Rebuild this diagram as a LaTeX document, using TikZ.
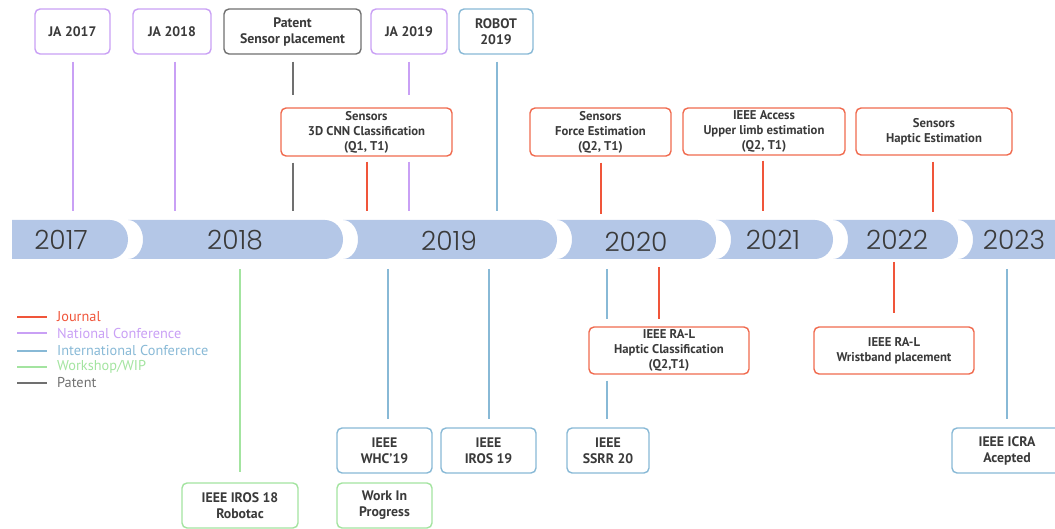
\documentclass[tikz,border=0pt]{standalone}
\usepackage{fontspec}
\setmainfont{PT Sans}
\newfontfamily\yearfont{Poppins}[UprightFont=* Light]
\newfontfamily\boxfont{PT Sans}[UprightFont=* Bold]
\definecolor{cjour}{HTML}{F0553A}
\definecolor{cjourb}{HTML}{F06A4E}
\definecolor{cnat}{HTML}{C9A0F5}
\definecolor{cint}{HTML}{88B9D6}
\definecolor{cwork}{HTML}{A3E4A0}
\definecolor{cpat}{HTML}{707070}
\definecolor{bandc}{HTML}{B4C7E7}
\definecolor{txt}{HTML}{3A3A3A}
\definecolor{yeartxt}{HTML}{3A3A3A}
\tikzset{
  box/.style={draw, rounded corners=5pt, line width=1.4pt, fill=white, align=center,
    text=txt, inner sep=0pt, font=\boxfont\fontsize{13.8}{16}\selectfont},
  sbox/.style={box, font=\boxfont\fontsize{12.7}{15}\selectfont},
  jbox/.style={sbox, draw=cjourb},
  nbox/.style={box, draw=cnat},
  ibox/.style={box, draw=cint},
  wbox/.style={box, draw=cwork},
  pbox/.style={box, draw=cpat},
  conn/.style={line width=2pt},
  jl/.style={conn, draw=cjour},
  nl/.style={conn, draw=cnat},
  il/.style={conn, draw=cint},
  wl/.style={conn, draw=cwork},
  pl/.style={conn, draw=cpat},
  legline/.style={line width=2pt},
  legtext/.style={anchor=west, inner sep=0pt, font=\fontsize{14.3}{15}\selectfont},
  year/.style={font=\yearfont\fontsize{26.5}{28}\selectfont, text=yeartxt, inner sep=0pt}
}
\newcommand\bandseg[2]{\fill[bandc] (#1,220) -- ({#2-18},220) .. controls ({#2-8},220) and (#2,228.7) .. (#2,239.5) .. controls (#2,250.3) and ({#2-8},259) .. ({#2-18},259) -- (#1,259) .. controls ({#1+8.3},259) and ({#1+15},250.3) .. ({#1+15},239.5) .. controls ({#1+15},228.7) and ({#1+8.3},220) .. (#1,220) -- cycle;}
\begin{document}
\begin{tikzpicture}[x=1pt,y=-1pt]
\useasboundingbox (0,0) rectangle (1055,529);
\clip (0,0) rectangle (1055,529);
% band
\fill[bandc] (12,220) -- (110,220) .. controls (120,220) and (128,228.7) .. (128,239.5) .. controls (128,250.3) and (120,259) .. (110,259) -- (12,259) -- cycle;
\bandseg{128}{343}
\bandseg{343}{557}
\bandseg{557}{716}
\bandseg{716}{833}
\bandseg{833}{958}
\fill[bandc] (958,220) -- (1060,220) -- (1060,259) -- (958,259) .. controls (966.3,259) and (973,250.3) .. (973,239.5) .. controls (973,228.7) and (966.3,220) .. (958,220) -- cycle;
\node[year] (y17) at (61,240) {2017};
\node[year] (y18) at (235,240) {2018};
\node[year] (y19) at (449,241) {2019};
\node[year] (y20) at (636,242) {2020};
\node[year] (y21) at (773,240) {2021};
\node[year] (y22) at (897,240) {2022};
\node[year] (y23) at (1014,240) {2023};
\coordinate (bt) at (0,211);
\coordinate (bb) at (0,269);
% top boxes
\node[nbox, minimum width=75pt, minimum height=45pt] (ja17) at (72.5,31.5) {JA 2017};
\node[nbox, minimum width=78pt, minimum height=45pt] (ja18) at (172,31.5) {JA 2018};
\node[pbox, minimum width=137pt, minimum height=45pt] (pat) at (292.5,31.5) {Patent\\Sensor placement};
\node[nbox, minimum width=76pt, minimum height=45pt] (ja19) at (409,31.5) {JA 2019};
\node[ibox, minimum width=74pt, minimum height=45pt] (robot) at (496,31.5) {ROBOT\\2019};
\node[jbox, minimum width=171pt, minimum height=48pt] (cnn) at (366.5,132) {Sensors\\3D CNN Classification\\(Q1, T1)};
\node[jbox, minimum width=141pt, minimum height=48pt] (force) at (600.5,132) {Sensors\\Force Estimation\\(Q2, T1)};
\node[jbox, minimum width=162pt, minimum height=47pt] (access) at (764,131.5) {IEEE Access\\Upper limb estimation\\(Q2, T1)};
\node[jbox, minimum width=156pt, minimum height=47pt] (haptic) at (934,131.5) {Sensors\\Haptic Estimation};
% bottom boxes
\node[wbox, minimum width=116pt, minimum height=45pt] (iros18) at (240,505.5) {IEEE IROS 18\\Robotac};
\node[ibox, minimum width=95pt, minimum height=45pt] (whc) at (384.5,450.5) {IEEE\\WHC’19};
\node[wbox, minimum width=95pt, minimum height=45pt] (wip) at (384.5,505.5) {Work In\\Progress};
\node[ibox, minimum width=95pt, minimum height=45pt] (iros19) at (488.5,450.5) {IEEE\\IROS 19};
\node[ibox, minimum width=82pt, minimum height=45pt] (ssrr) at (608,450.5) {IEEE\\SSRR 20};
\node[jbox, minimum width=160pt, minimum height=47pt] (ral1) at (669,350.5) {IEEE RA-L\\Haptic Classification\\(Q2,T1)};
\node[jbox, minimum width=160pt, minimum height=47pt] (ral2) at (894,350.5) {IEEE RA-L\\Wristband placement};
\node[ibox, minimum width=110pt, minimum height=45pt] (icra) at (1007,450.5) {IEEE ICRA\\Acepted};
% top connectors
\draw[nl] ([yshift=-7pt]ja17.south) -- (ja17.south |- bt);
\draw[nl] ([xshift=2.5pt,yshift=-7pt]ja18.south) -- ([xshift=2.5pt]ja18.south |- bt);
\draw[pl] ([yshift=-7pt]pat.south) -- ([yshift=12pt]pat.south |- cnn.north);
\draw[pl] ([yshift=-6pt]pat.south |- cnn.south) -- (pat.south |- bt);
\draw[nl] ([yshift=-7pt]ja19.south) -- ([yshift=12pt]ja19.south |- cnn.north);
\draw[nl] ([yshift=-5pt]ja19.south |- cnn.south) -- (ja19.south |- bt);
\draw[il] ([xshift=1pt,yshift=-7pt]robot.south) -- ([xshift=1pt]robot.south |- bt);
\draw[jl] ([yshift=-5pt]cnn.south) -- (cnn.south |- bt);
\draw[jl] ([yshift=-6pt]force.south) -- ([yshift=-3pt]force.south |- bt);
\draw[jl] ([xshift=-1pt,yshift=-5pt]access.south) -- ([xshift=-1pt]access.south |- bt);
\draw[jl] ([xshift=-1pt,yshift=-6pt]haptic.south) -- ([xshift=-1pt,yshift=-1pt]haptic.south |- bt);
% bottom connectors
\draw[wl] (iros18.north |- bb) -- ([yshift=10pt]iros18.north);
\draw[il] ([xshift=3.5pt]whc.north |- bb) -- ([xshift=3.5pt,yshift=8pt]whc.north);
\draw[il] (iros19.north |- bb) -- ([yshift=8pt]iros19.north);
\draw[il] ([xshift=-1pt]ssrr.north |- bb) -- ([xshift=-1pt,yshift=7pt]ssrr.north |- ral1.north);
\draw[il] ([xshift=-1pt,yshift=-6pt]ssrr.north |- ral1.south) -- ([xshift=-1pt,yshift=8pt]ssrr.north);
\draw[jl] ([xshift=-10pt,yshift=2pt]ral1.north |- bb) -- ([xshift=-10pt,yshift=7pt]ral1.north);
\draw[jl] ([yshift=7pt]ral2.north |- bb) -- ([yshift=13pt]ral2.north);
\draw[il] (icra.north |- bb) -- ([yshift=8pt]icra.north);
% legend
\node[legtext, text=cjour] (lj) at (57,317) {Journal};
\node[legtext, text=cnat] (ln) at (57,333.5) {National Conference};
\node[legtext, text=cint] (li) at (57,350.5) {International Conference};
\node[legtext, text=cwork] (lw) at (57,367) {Workshop/WIP};
\node[legtext, text=cpat] (lp) at (57,383) {Patent};
\draw[legline, cjour] ([xshift=-40pt]lj.west) -- ([xshift=-10pt]lj.west);
\draw[legline, cnat] ([xshift=-40pt]ln.west) -- ([xshift=-10pt]ln.west);
\draw[legline, cint] ([xshift=-40pt]li.west) -- ([xshift=-10pt]li.west);
\draw[legline, cwork] ([xshift=-40pt]lw.west) -- ([xshift=-10pt]lw.west);
\draw[legline, cpat] ([xshift=-40pt]lp.west) -- ([xshift=-10pt]lp.west);
\end{tikzpicture}
\end{document}
